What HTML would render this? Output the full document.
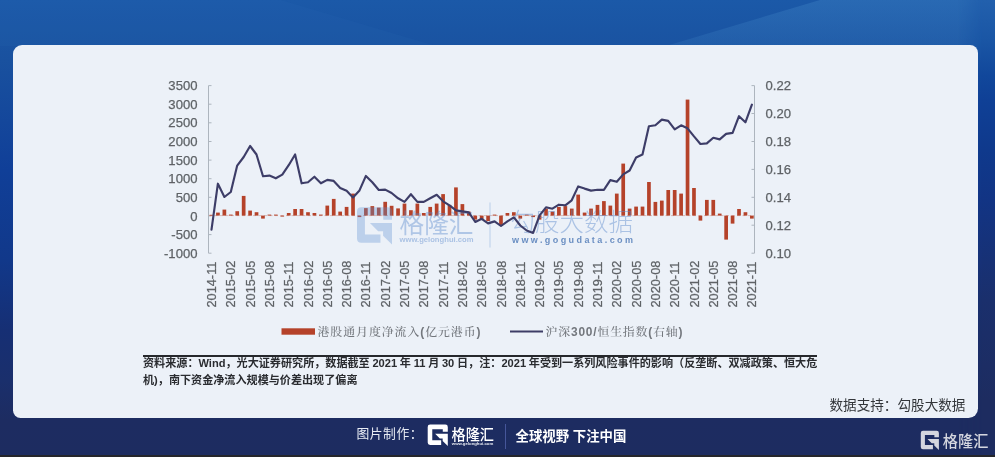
<!DOCTYPE html>
<html lang="zh-CN">
<head>
<meta charset="utf-8">
<title>港股通月度净流入</title>
<style>
html,body{margin:0;padding:0;}
body{width:995px;height:457px;overflow:hidden;position:relative;background:#1d2c60;font-family:"Liberation Sans","Noto Sans CJK SC",sans-serif;}
#bg{position:absolute;left:0;top:0;width:995px;height:457px;
background:linear-gradient(180deg,#1b59a8 0px,#19519f 60px,#103f98 170px,#11388a 260px,#162f74 330px,#1a2f6c 380px,#1d2c61 420px,#1d2c60 457px);}
#bgR{position:absolute;left:958px;top:0;width:37px;height:457px;
background:linear-gradient(180deg,#2260ad 0px,#1a56a5 40px,#11479b 76px,#0f4096 100px,#0f398c 150px,#123484 200px,#1a2f6c 300px,#1d2c60 400px,#1d2c60 457px);
-webkit-mask-image:linear-gradient(90deg,transparent 0,#000 24px);mask-image:linear-gradient(90deg,transparent 0,#000 24px);}
#shine{position:absolute;left:0;top:0;width:995px;height:60px;background:linear-gradient(180deg,rgba(62,130,196,.40) 0,rgba(62,130,196,.22) 46px,rgba(62,130,196,.2) 60px);
clip-path:polygon(666px 46px,820px 0,995px 0,995px 60px,666px 60px);}
#shine2{position:absolute;left:0;top:0;width:995px;height:60px;background:rgba(60,125,200,.07);
clip-path:polygon(0 0,281px 0,436px 46px,0 46px);}
#dark{position:absolute;left:0;top:454.5px;width:995px;height:3px;background:#25262b;}
#card{position:absolute;left:13px;top:45px;width:965px;height:373px;background:#ecf1f8;border-radius:9px 8px 9.5px 7.5px;}
svg#chart{position:absolute;left:0;top:0;}
#rule{position:absolute;left:143px;top:355.1px;width:674px;height:1.6px;background:#26282c;}
.fn{position:absolute;left:143px;width:674px;font-size:11.1px;font-weight:700;color:#2a2c30;white-space:nowrap;line-height:14px;height:14px;}
#fn1{top:355.8px;word-spacing:-0.35px;}
#fn2{top:373px;}
#support{position:absolute;left:829.5px;top:396px;font-size:13.6px;color:#33363a;line-height:20px;white-space:nowrap;}
#made{position:absolute;left:356.5px;top:424.4px;font-size:12.8px;color:#e8ecf4;line-height:20px;white-space:nowrap;letter-spacing:.5px;}
#slogan{position:absolute;left:515.5px;top:427.2px;font-size:13.4px;font-weight:bold;color:#ffffff;line-height:20px;white-space:nowrap;}
#vbar{position:absolute;left:505.3px;top:423.5px;width:1.2px;height:25.5px;background:#46569a;}
</style>
</head>
<body>
<div id="bg"></div>
<div id="shine"></div>
<div id="shine2"></div>
<div id="bgR"></div>
<div id="dark"></div>
<div id="card"></div>
<svg id="chart" width="995" height="457" viewBox="0 0 995 457">
<defs><filter id="soft" x="0" y="0" width="995" height="457" filterUnits="userSpaceOnUse"><feGaussianBlur stdDeviation="0.45"/></filter></defs>
<g filter="url(#soft)">
<g stroke="#adb5be" stroke-width="1" fill="none">
<path d="M211.5 85.6H208.5V253.2H211.5"/>
<path d="M208.5 104.2H211.5"/>
<path d="M208.5 122.8H211.5"/>
<path d="M208.5 141.5H211.5"/>
<path d="M208.5 160.1H211.5"/>
<path d="M208.5 178.7H211.5"/>
<path d="M208.5 197.3H211.5"/>
<path d="M208.5 215.9H211.5"/>
<path d="M208.5 234.6H211.5"/>
<path d="M751.5 85.6H754.5V253.2H751.5"/>
<path d="M751.5 113.5H754.5"/>
<path d="M751.5 141.5H754.5"/>
<path d="M751.5 169.4H754.5"/>
<path d="M751.5 197.3H754.5"/>
<path d="M751.5 225.2H754.5"/>
</g>
<path d="M209 215.6H754" stroke="#c98f86" stroke-width="1" stroke-dasharray="3 2.5" opacity=".55"/>
<g fill="#b5432a">
<rect x="209.65" y="214.8" width="3.7" height="0.8"/>
<rect x="216.08" y="212.6" width="3.7" height="3.0"/>
<rect x="222.52" y="209.6" width="3.7" height="6.0"/>
<rect x="228.95" y="214.6" width="3.7" height="1.0"/>
<rect x="235.38" y="211.2" width="3.7" height="4.4"/>
<rect x="241.81" y="195.9" width="3.7" height="19.7"/>
<rect x="248.25" y="210.6" width="3.7" height="5.0"/>
<rect x="254.68" y="212.2" width="3.7" height="3.4"/>
<rect x="261.11" y="215.6" width="3.7" height="3.0"/>
<rect x="267.55" y="214.6" width="3.7" height="1.0"/>
<rect x="273.98" y="214.6" width="3.7" height="1.0"/>
<rect x="280.41" y="215.6" width="3.7" height="1.0"/>
<rect x="286.85" y="213.0" width="3.7" height="2.6"/>
<rect x="293.28" y="209.0" width="3.7" height="6.6"/>
<rect x="299.71" y="209.0" width="3.7" height="6.6"/>
<rect x="306.14" y="212.2" width="3.7" height="3.4"/>
<rect x="312.58" y="213.0" width="3.7" height="2.6"/>
<rect x="319.01" y="214.6" width="3.7" height="1.0"/>
<rect x="325.44" y="205.6" width="3.7" height="10.0"/>
<rect x="331.88" y="198.9" width="3.7" height="16.7"/>
<rect x="338.31" y="211.6" width="3.7" height="4.0"/>
<rect x="344.74" y="206.9" width="3.7" height="8.7"/>
<rect x="351.18" y="193.6" width="3.7" height="22.0"/>
<rect x="357.61" y="215.6" width="3.7" height="1.5"/>
<rect x="364.04" y="208.1" width="3.7" height="7.5"/>
<rect x="370.47" y="206.1" width="3.7" height="9.5"/>
<rect x="376.91" y="207.6" width="3.7" height="8.0"/>
<rect x="383.34" y="201.8" width="3.7" height="13.8"/>
<rect x="389.77" y="205.8" width="3.7" height="9.8"/>
<rect x="396.21" y="208.4" width="3.7" height="7.2"/>
<rect x="402.64" y="203.6" width="3.7" height="12.0"/>
<rect x="409.07" y="210.2" width="3.7" height="5.4"/>
<rect x="415.51" y="203.6" width="3.7" height="12.0"/>
<rect x="421.94" y="213.0" width="3.7" height="2.6"/>
<rect x="428.37" y="206.9" width="3.7" height="8.7"/>
<rect x="434.80" y="203.6" width="3.7" height="12.0"/>
<rect x="441.24" y="194.1" width="3.7" height="21.5"/>
<rect x="447.67" y="204.9" width="3.7" height="10.7"/>
<rect x="454.10" y="187.4" width="3.7" height="28.2"/>
<rect x="460.54" y="204.1" width="3.7" height="11.5"/>
<rect x="466.97" y="211.6" width="3.7" height="4.0"/>
<rect x="473.40" y="215.6" width="3.7" height="4.0"/>
<rect x="479.84" y="215.6" width="3.7" height="3.5"/>
<rect x="486.27" y="215.6" width="3.7" height="5.5"/>
<rect x="492.70" y="214.6" width="3.7" height="1.0"/>
<rect x="499.13" y="215.6" width="3.7" height="9.5"/>
<rect x="505.57" y="213.0" width="3.7" height="2.6"/>
<rect x="512.00" y="212.2" width="3.7" height="3.4"/>
<rect x="518.43" y="215.6" width="3.7" height="3.0"/>
<rect x="524.87" y="214.6" width="3.7" height="1.0"/>
<rect x="531.30" y="215.6" width="3.7" height="1.5"/>
<rect x="537.73" y="215.6" width="3.7" height="4.0"/>
<rect x="544.17" y="208.6" width="3.7" height="7.0"/>
<rect x="550.60" y="211.6" width="3.7" height="4.0"/>
<rect x="557.03" y="206.9" width="3.7" height="8.7"/>
<rect x="563.47" y="206.1" width="3.7" height="9.5"/>
<rect x="569.90" y="208.6" width="3.7" height="7.0"/>
<rect x="576.33" y="194.6" width="3.7" height="21.0"/>
<rect x="582.76" y="212.6" width="3.7" height="3.0"/>
<rect x="589.20" y="208.6" width="3.7" height="7.0"/>
<rect x="595.63" y="204.9" width="3.7" height="10.7"/>
<rect x="602.06" y="201.1" width="3.7" height="14.5"/>
<rect x="608.50" y="205.6" width="3.7" height="10.0"/>
<rect x="614.93" y="193.6" width="3.7" height="22.0"/>
<rect x="621.36" y="163.6" width="3.7" height="52.0"/>
<rect x="627.79" y="208.6" width="3.7" height="7.0"/>
<rect x="634.23" y="206.6" width="3.7" height="9.0"/>
<rect x="640.66" y="206.6" width="3.7" height="9.0"/>
<rect x="647.09" y="182.0" width="3.7" height="33.6"/>
<rect x="653.53" y="201.9" width="3.7" height="13.7"/>
<rect x="659.96" y="200.6" width="3.7" height="15.0"/>
<rect x="666.39" y="190.0" width="3.7" height="25.6"/>
<rect x="672.83" y="190.0" width="3.7" height="25.6"/>
<rect x="679.26" y="193.6" width="3.7" height="22.0"/>
<rect x="685.69" y="99.6" width="3.7" height="116.0"/>
<rect x="692.12" y="188.0" width="3.7" height="27.6"/>
<rect x="698.56" y="215.6" width="3.7" height="5.0"/>
<rect x="704.99" y="199.9" width="3.7" height="15.7"/>
<rect x="711.42" y="199.9" width="3.7" height="15.7"/>
<rect x="717.86" y="213.6" width="3.7" height="2.0"/>
<rect x="724.29" y="215.6" width="3.7" height="24.0"/>
<rect x="730.72" y="215.6" width="3.7" height="8.0"/>
<rect x="737.16" y="209.0" width="3.7" height="6.6"/>
<rect x="743.59" y="212.2" width="3.7" height="3.4"/>
<rect x="750.02" y="215.6" width="3.7" height="3.0"/>
</g>
<path transform="translate(357 207.2) scale(0.35)" d="M12 0H88Q100 0 100 12V36H75V22.7H22.7V78H67V101.5H12Q0 101.5 0 89.5V12Q0 0 12 0ZM37 45.3H100V106.5L74.5 81.5V69H60.5Z" fill="#5f8fd0" opacity="0.33"/>
<text x="399.5" y="232.6" font-family="Liberation Sans, 'Noto Sans CJK SC', sans-serif" font-weight="400" font-size="25.6" fill="#5a8acc" fill-opacity=".42" textLength="74" lengthAdjust="spacingAndGlyphs">格隆汇</text>
<text x="399.5" y="242.3" font-family="Liberation Sans, sans-serif" font-size="7.6" font-weight="bold" fill="#5a8acc" fill-opacity=".45" textLength="74" lengthAdjust="spacingAndGlyphs">www.gelonghui.com</text>
<path d="M490 202.5V247.5" stroke="#5f8fd0" stroke-opacity=".35" stroke-width="1"/>
<text x="510.5" y="230.5" font-family="Liberation Sans, 'Noto Sans CJK SC', sans-serif" font-weight="300" font-size="24.5" fill="#5a8acc" fill-opacity=".45" textLength="122.5" lengthAdjust="spacingAndGlyphs">勾股大数据</text>
<text x="512" y="243" font-family="Liberation Sans, sans-serif" font-size="9" font-weight="bold" fill="#3f6db0" fill-opacity=".75" textLength="121" lengthAdjust="spacing">www.gogudata.com</text>
<polyline points="211.5,229.6 217.9,183.7 224.4,197.0 230.8,192.0 237.2,165.6 243.7,157.0 250.1,146.0 256.5,154.5 263.0,176.3 269.4,175.6 275.8,178.3 282.3,174.6 288.7,165.2 295.1,154.5 301.6,183.3 308.0,182.3 314.4,176.7 320.9,183.3 327.3,179.9 333.7,180.9 340.2,187.9 346.6,190.8 353.0,197.4 359.5,190.4 365.9,175.9 372.3,182.3 378.8,190.0 385.2,189.6 391.6,193.0 398.1,198.3 404.5,201.9 410.9,194.2 417.4,201.9 423.8,201.9 430.2,198.3 436.7,194.8 443.1,201.3 449.5,205.3 456.0,210.4 462.4,211.4 468.8,212.4 475.3,222.0 481.7,218.8 488.1,223.4 494.6,221.4 501.0,226.0 507.4,221.4 513.9,217.4 520.3,225.5 526.7,230.5 533.1,232.9 539.6,215.4 546.0,207.3 552.4,208.7 558.9,204.7 565.3,205.3 571.7,200.3 578.2,186.4 584.6,188.6 591.0,190.6 597.5,189.8 603.9,189.8 610.3,180.1 616.8,181.8 623.2,174.4 629.6,170.5 636.1,157.5 642.5,154.5 648.9,126.3 655.4,125.3 661.8,119.6 668.2,120.9 674.7,129.3 681.1,125.3 687.5,128.3 694.0,136.4 700.4,144.0 706.8,143.4 713.3,137.8 719.7,139.4 726.1,133.9 732.6,132.9 739.0,116.2 745.4,122.3 751.9,104.7" fill="none" stroke="#3e3e68" stroke-width="2.15" stroke-linejoin="round" stroke-linecap="round"/>
<g font-family="Liberation Sans, sans-serif" font-size="13.1" fill="#5e6266" stroke="#5e6266" stroke-width=".25">
<text x="197.5" y="90.2" text-anchor="end">3500</text>
<text x="197.5" y="108.8" text-anchor="end">3000</text>
<text x="197.5" y="127.4" text-anchor="end">2500</text>
<text x="197.5" y="146.1" text-anchor="end">2000</text>
<text x="197.5" y="164.7" text-anchor="end">1500</text>
<text x="197.5" y="183.3" text-anchor="end">1000</text>
<text x="197.5" y="201.9" text-anchor="end">500</text>
<text x="197.5" y="220.5" text-anchor="end">0</text>
<text x="197.5" y="239.2" text-anchor="end">-500</text>
<text x="197.5" y="257.8" text-anchor="end">-1000</text>
<text x="765.5" y="90.2">0.22</text>
<text x="765.5" y="118.1">0.20</text>
<text x="765.5" y="146.1">0.18</text>
<text x="765.5" y="174.0">0.16</text>
<text x="765.5" y="201.9">0.14</text>
<text x="765.5" y="229.8">0.12</text>
<text x="765.5" y="257.8">0.10</text>
<text font-size="12.8" transform="translate(216.0 307.6) rotate(-90)">2014-11</text>
<text font-size="12.8" transform="translate(235.3 307.6) rotate(-90)">2015-02</text>
<text font-size="12.8" transform="translate(254.6 307.6) rotate(-90)">2015-05</text>
<text font-size="12.8" transform="translate(273.9 307.6) rotate(-90)">2015-08</text>
<text font-size="12.8" transform="translate(293.2 307.6) rotate(-90)">2015-11</text>
<text font-size="12.8" transform="translate(312.5 307.6) rotate(-90)">2016-02</text>
<text font-size="12.8" transform="translate(331.8 307.6) rotate(-90)">2016-05</text>
<text font-size="12.8" transform="translate(351.1 307.6) rotate(-90)">2016-08</text>
<text font-size="12.8" transform="translate(370.4 307.6) rotate(-90)">2016-11</text>
<text font-size="12.8" transform="translate(389.7 307.6) rotate(-90)">2017-02</text>
<text font-size="12.8" transform="translate(409.0 307.6) rotate(-90)">2017-05</text>
<text font-size="12.8" transform="translate(428.3 307.6) rotate(-90)">2017-08</text>
<text font-size="12.8" transform="translate(447.6 307.6) rotate(-90)">2017-11</text>
<text font-size="12.8" transform="translate(466.9 307.6) rotate(-90)">2018-02</text>
<text font-size="12.8" transform="translate(486.2 307.6) rotate(-90)">2018-05</text>
<text font-size="12.8" transform="translate(505.5 307.6) rotate(-90)">2018-08</text>
<text font-size="12.8" transform="translate(524.8 307.6) rotate(-90)">2018-11</text>
<text font-size="12.8" transform="translate(544.1 307.6) rotate(-90)">2019-02</text>
<text font-size="12.8" transform="translate(563.4 307.6) rotate(-90)">2019-05</text>
<text font-size="12.8" transform="translate(582.7 307.6) rotate(-90)">2019-08</text>
<text font-size="12.8" transform="translate(602.0 307.6) rotate(-90)">2019-11</text>
<text font-size="12.8" transform="translate(621.3 307.6) rotate(-90)">2020-02</text>
<text font-size="12.8" transform="translate(640.6 307.6) rotate(-90)">2020-05</text>
<text font-size="12.8" transform="translate(659.9 307.6) rotate(-90)">2020-08</text>
<text font-size="12.8" transform="translate(679.2 307.6) rotate(-90)">2020-11</text>
<text font-size="12.8" transform="translate(698.5 307.6) rotate(-90)">2021-02</text>
<text font-size="12.8" transform="translate(717.8 307.6) rotate(-90)">2021-05</text>
<text font-size="12.8" transform="translate(737.1 307.6) rotate(-90)">2021-08</text>
<text font-size="12.8" transform="translate(756.4 307.6) rotate(-90)">2021-11</text>
</g>
<rect x="281.5" y="328.3" width="33.5" height="6.4" fill="#b5432a"/>
<path d="M510 331.5H543" stroke="#3d3d66" stroke-width="2"/>
<g font-family="Liberation Sans, 'Noto Serif CJK SC', serif" font-size="11.9" font-weight="500" fill="#73777d">
<text x="317.5" y="335.6" textLength="163" lengthAdjust="spacing">港股通月度净流入<tspan font-weight="bold">(</tspan>亿元港币<tspan font-weight="bold">)</tspan></text>
<text x="545.5" y="335.6" textLength="137" lengthAdjust="spacing">沪深<tspan font-weight="bold">300/</tspan>恒生指数<tspan font-weight="bold">(</tspan>右轴<tspan font-weight="bold">)</tspan></text>
</g>
</g>
<path transform="translate(427.7 424.6) scale(0.201)" d="M12 0H88Q100 0 100 12V36H75V22.7H22.7V78H67V101.5H12Q0 101.5 0 89.5V12Q0 0 12 0ZM37 45.3H100V106.5L74.5 81.5V69H60.5Z" fill="#ffffff" opacity="1"/>
<text transform="translate(451.6 439.5) scale(1 1.07)" font-family="Liberation Sans, 'Noto Sans CJK SC', sans-serif" font-weight="500" font-size="14.2" fill="#ffffff" textLength="42.4" lengthAdjust="spacingAndGlyphs">格隆汇</text>
<text x="451.8" y="444.8" font-family="Liberation Sans, sans-serif" font-size="4.2" font-weight="bold" fill="#e8ebf3" textLength="41.5" lengthAdjust="spacingAndGlyphs">www.gelonghui.com</text>
<path transform="translate(920.8 430.8) scale(0.18100000000000002)" d="M12 0H88Q100 0 100 12V36H75V22.7H22.7V78H67V101.5H12Q0 101.5 0 89.5V12Q0 0 12 0ZM37 45.3H100V106.5L74.5 81.5V69H60.5Z" fill="#d4d6df" opacity="1"/>
<text transform="translate(942.8 446.6) scale(1 1.06)" font-family="Liberation Sans, 'Noto Sans CJK SC', sans-serif" font-weight="500" font-size="15.4" fill="#d4d6df" textLength="45.6" lengthAdjust="spacingAndGlyphs">格隆汇</text>
</svg>
<div id="rule"></div>
<div class="fn" id="fn1">资料来源：Wind，光大证券研究所，数据截至 2021 年 11 月 30 日，注：2021 年受到一系列风险事件的影响（反垄断、双减政策、恒大危</div>
<div class="fn" id="fn2">机)，南下资金净流入规模与价差出现了偏离</div>
<div id="support">数据支持：勾股大数据</div>
<div id="made">图片制作：</div>
<div id="vbar"></div>
<div id="slogan">全球视野 下注中国</div>
</body>
</html>
